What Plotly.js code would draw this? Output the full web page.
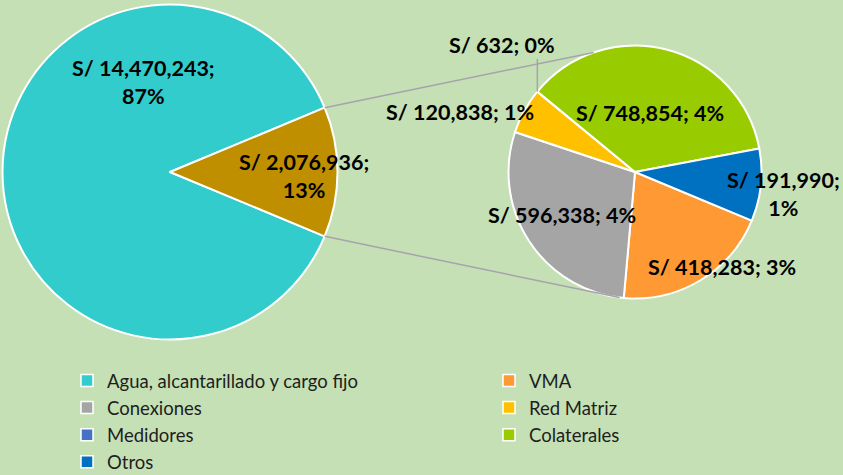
<!DOCTYPE html>
<html><head><meta charset="utf-8">
<script src="https://cdn.plot.ly/plotly-3.0.1.min.js"></script>
<style>html,body{margin:0;padding:0;background:#C5E0B4}</style>
</head><body><div id="chart" style="width:843px;height:475px"></div>
<script>
// ---- data ----
const mainLabels = ['Agua, alcantarillado y cargo fijo', 'Otros ingresos'];
const mainValues = [14470243, 2076936];
const mainPct = [87, 13];
const mainColors = ['#33CCCC', '#BF8F00'];

const subLabels = ['VMA', 'Conexiones', 'Red Matriz', 'Medidores', 'Colaterales', 'Otros'];
const subValues = [418283, 596338, 120838, 632, 748854, 191990];
const subPct = [3, 4, 1, 0, 4, 1];
const subColors = ['#FF9933', '#A5A5A5', '#FFC000', '#4472C4', '#99CC00', '#0070C0'];

const legendCol1 = ['Agua, alcantarillado y cargo fijo', 'Conexiones', 'Medidores', 'Otros'];
const legendCol2 = ['VMA', 'Red Matriz', 'Colaterales'];

// ---- geometry (pixels) ----
const W = 843, H = 475;
const mainC = {x: 170, y: 172, r: 167.5};
const subC = {x: 635, y: 172, r: 126.5};
const px = v => v / W, py = v => 1 - v / H;
const dom = c => ({x: [px(c.x - c.r), px(c.x + c.r)], y: [py(c.y + c.r), py(c.y - c.r)]});

const total = mainValues.reduce((a, b) => a + b, 0);
const rot = 90 + (mainValues[1] / total) * 180;

const fmt = v => 'S/ ' + v.toLocaleString('en-US');
const colorOf = {};
mainLabels.forEach((l, i) => colorOf[l] = mainColors[i]);
subLabels.forEach((l, i) => colorOf[l] = subColors[i]);

const traces = [
  {
    type: 'pie', labels: mainLabels, values: mainValues, sort: false, direction: 'clockwise',
    rotation: rot, textinfo: 'none', hoverinfo: 'skip', showlegend: false,
    marker: {colors: mainColors, line: {color: '#FFFFFF', width: 2}},
    domain: dom(mainC)
  },
  {
    type: 'pie', labels: subLabels, values: subValues, sort: false, direction: 'clockwise',
    rotation: rot, textinfo: 'none', hoverinfo: 'skip', showlegend: false,
    marker: {colors: subColors, line: {color: '#FFFFFF', width: 2}},
    domain: dom(subC)
  }
];
legendCol1.forEach(l => traces.push({type: 'scatter', mode: 'markers', x: [null], y: [null], name: l, legend: 'legend',
  marker: {symbol: 'square', size: 12, color: colorOf[l], line: {color: '#FFFFFF', width: 1.5}}}));
legendCol2.forEach(l => traces.push({type: 'scatter', mode: 'markers', x: [null], y: [null], name: l, legend: 'legend2',
  marker: {symbol: 'square', size: 12, color: colorOf[l], line: {color: '#FFFFFF', width: 1.5}}}));

// connector lines
const half = (mainValues[1] / total) * Math.PI;
const pt = (c, ang) => [c.x + c.r * Math.cos(ang), c.y - c.r * Math.sin(ang)];
const deg = d => d * Math.PI / 180;
const m1 = pt(mainC, half), m2 = pt(mainC, -half);
const s1 = pt(subC, deg(109)), s2 = pt(subC, deg(-97));
// Medidores slice mid angle
let cum = 0; for (let i = 0; i < 3; i++) cum += subValues[i];
const subTot = subValues.reduce((a, b) => a + b, 0);
const medAng = deg(90 - rot) - 2 * Math.PI * (cum + subValues[3] / 2) / subTot;
const mp = pt(subC, medAng);
const lineStyle = {color: '#A6A3AC', width: 1.5};
const shapes = [
  {type: 'line', xref: 'paper', yref: 'paper', x0: px(m1[0]), y0: py(m1[1]), x1: px(s1[0]), y1: py(s1[1]), line: lineStyle},
  {type: 'line', xref: 'paper', yref: 'paper', x0: px(m2[0]), y0: py(m2[1]), x1: px(s2[0]), y1: py(s2[1]), line: lineStyle},
  {type: 'line', xref: 'paper', yref: 'paper', x0: px(mp[0]), y0: py(mp[1]), x1: px(mp[0]), y1: py(59), line: lineStyle}
];

// label positions (pixels)
const mainPos = [[143, 82], [304, 176]];
const subPos = [[722, 267], [562, 215], [460, 112], [502, 45], [650, 113], [783, 194]];
const mainBreak = [true, true];
const subBreak = [false, false, false, false, false, true];
const annFont = {family: 'Lato, sans-serif', size: 21.5, color: '#000000'};
const annotations = [];
const mkAnn = (pos, v, p, br) => ({
  xref: 'paper', yref: 'paper', x: px(pos[0]), y: py(pos[1]), xanchor: 'center', yanchor: 'middle',
  showarrow: false, text: '<b>' + fmt(v) + ';' + (br ? '<br>' : ' ') + p + '%</b>', font: annFont
});
mainValues.forEach((v, i) => annotations.push(mkAnn(mainPos[i], v, mainPct[i], mainBreak[i])));
subValues.forEach((v, i) => annotations.push(mkAnn(subPos[i], v, subPct[i], subBreak[i])));

const legFont = {family: 'Lato, sans-serif', size: 18.5, color: '#1E1E1E'};
const layout = {
  width: W, height: H, margin: {l: 0, r: 0, t: 0, b: 0, autoexpand: false},
  paper_bgcolor: '#C5E0B4', plot_bgcolor: 'rgba(0,0,0,0)',
  xaxis: {visible: false}, yaxis: {visible: false},
  showlegend: true,
  legend: {x: px(67), y: py(362), xanchor: 'left', yanchor: 'top', bgcolor: 'rgba(0,0,0,0)', font: legFont, orientation: 'v'},
  legend2: {x: px(489), y: py(362), xanchor: 'left', yanchor: 'top', bgcolor: 'rgba(0,0,0,0)', font: legFont, orientation: 'v'},
  shapes: shapes, annotations: annotations
};
Plotly.newPlot('chart', traces, layout, {displayModeBar: false, staticPlot: true});
</script></body></html>
